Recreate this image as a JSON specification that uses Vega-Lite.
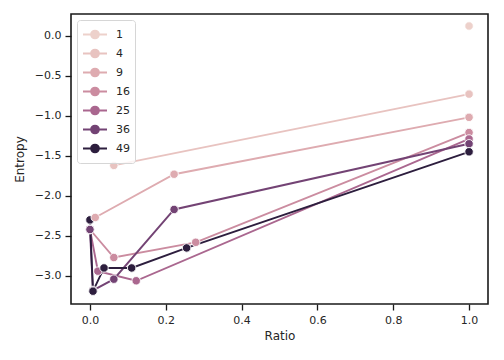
{
  "$schema": "https://vega.github.io/schema/vega-lite/v6.json",
  "width": 417,
  "height": 290,
  "autosize": "none",
  "padding": {"left": 71, "top": 14, "right": 16, "bottom": 56},
  "config": {
    "font": "DejaVu Sans",
    "view": {"stroke": "#1a1a1a", "strokeWidth": 1.6},
    "axis": {
      "domain": false,
      "grid": false,
      "tickColor": "#1a1a1a",
      "tickWidth": 1.3,
      "tickSize": 6,
      "labelFontSize": 11,
      "labelColor": "#262626",
      "labelPadding": 4,
      "titleFontSize": 12,
      "titleFontWeight": "normal",
      "titleColor": "#262626"
    },
    "legend": {
      "labelFontSize": 11,
      "labelColor": "#262626"
    }
  },
  "data": {
    "values": [
      {"N": 1, "Ratio": 1.0, "Entropy": 0.12},
      {"N": 4, "Ratio": 0.063, "Entropy": -1.62},
      {"N": 4, "Ratio": 1.0, "Entropy": -0.73},
      {"N": 9, "Ratio": 0.014, "Entropy": -2.27},
      {"N": 9, "Ratio": 0.222, "Entropy": -1.73},
      {"N": 9, "Ratio": 1.0, "Entropy": -1.02},
      {"N": 16, "Ratio": 0.0, "Entropy": -2.42},
      {"N": 16, "Ratio": 0.063, "Entropy": -2.77},
      {"N": 16, "Ratio": 0.279, "Entropy": -2.58},
      {"N": 16, "Ratio": 1.0, "Entropy": -1.21},
      {"N": 25, "Ratio": 0.0, "Entropy": -2.42},
      {"N": 25, "Ratio": 0.021, "Entropy": -2.94},
      {"N": 25, "Ratio": 0.122, "Entropy": -3.06},
      {"N": 25, "Ratio": 1.0, "Entropy": -1.29},
      {"N": 36, "Ratio": 0.0, "Entropy": -2.42},
      {"N": 36, "Ratio": 0.008, "Entropy": -3.18},
      {"N": 36, "Ratio": 0.063, "Entropy": -3.04},
      {"N": 36, "Ratio": 0.222, "Entropy": -2.17},
      {"N": 36, "Ratio": 1.0, "Entropy": -1.35},
      {"N": 49, "Ratio": 0.0, "Entropy": -2.3},
      {"N": 49, "Ratio": 0.008, "Entropy": -3.19},
      {"N": 49, "Ratio": 0.037, "Entropy": -2.9},
      {"N": 49, "Ratio": 0.11, "Entropy": -2.9},
      {"N": 49, "Ratio": 0.255, "Entropy": -2.65},
      {"N": 49, "Ratio": 1.0, "Entropy": -1.45}
    ]
  },
  "mark": {
    "type": "line",
    "strokeWidth": 1.9,
    "point": {"filled": true, "size": 72, "stroke": "white", "strokeWidth": 0.9}
  },
  "encoding": {
    "x": {
      "field": "Ratio",
      "type": "quantitative",
      "scale": {"domain": [-0.05, 1.05], "nice": false, "zero": false},
      "axis": {"values": [0, 0.2, 0.4, 0.6, 0.8, 1.0], "format": ".1f", "title": "Ratio", "titlePadding": 5}
    },
    "y": {
      "field": "Entropy",
      "type": "quantitative",
      "scale": {"domain": [-3.35, 0.27], "nice": false, "zero": false},
      "axis": {"values": [0, -0.5, -1, -1.5, -2, -2.5, -3], "format": ".1f", "title": "Entropy", "titlePadding": 8}
    },
    "color": {
      "field": "N",
      "type": "ordinal",
      "scale": {
        "domain": [1, 4, 9, 16, 25, 36, 49],
        "range": ["#edd1cb", "#e8c3c0", "#deabb0", "#cb8ca0", "#aa678f", "#734374", "#2d1e3e"]
      },
      "legend": {
        "title": null,
        "orient": "none",
        "legendX": 6,
        "legendY": 6,
        "fillColor": "rgba(255,255,255,0.8)",
        "strokeColor": "#d6d6d6",
        "cornerRadius": 3,
        "padding": 5,
        "symbolType": "M-1,0H1M0.33,0A0.33,0.33 0 1,1 -0.33,0A0.33,0.33 0 1,1 0.33,0Z",
        "symbolSize": 576,
        "symbolStrokeWidth": 1.8,
        "clipHeight": 19,
        "rowPadding": 0,
        "labelOffset": 8,
        "encode": {
          "symbols": {
            "update": {
              "stroke": {"scale": "color", "field": "value"},
              "fill": {"scale": "color", "field": "value"},
              "strokeWidth": {"value": 1.8},
              "opacity": {"value": 1}
            }
          }
        }
      }
    },
    "order": {"field": "Ratio"}
  }
}
